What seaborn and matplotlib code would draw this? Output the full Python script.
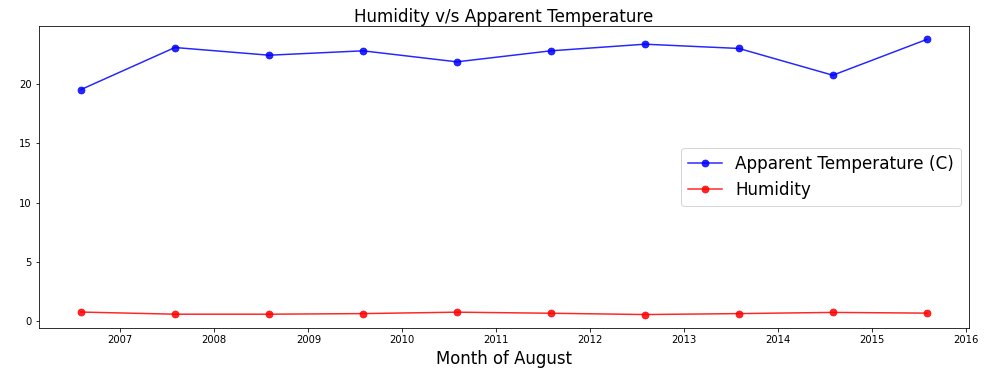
import matplotlib
matplotlib.use("Agg")
import matplotlib.pyplot as plt
import matplotlib.dates as mdates
import seaborn as sns
import pandas as pd

months = ["2006-08-01", "2007-08-01", "2008-08-01", "2009-08-01", "2010-08-01",
          "2011-08-01", "2012-08-01", "2013-08-01", "2014-08-01", "2015-08-01"]
apparent_temp = [19.55, 23.10, 22.45, 22.82, 21.89, 22.82, 23.38, 23.02, 20.76, 23.78]
humidity = [0.76, 0.58, 0.58, 0.63, 0.75, 0.66, 0.55, 0.63, 0.73, 0.67]

dates = pd.to_datetime(months)
df_t = pd.DataFrame({"date": dates, "value": apparent_temp})
df_h = pd.DataFrame({"date": dates, "value": humidity})

plt.rcParams['font.family'] = ['DejaVu Sans']
fig = plt.figure(figsize=(984/72, 376/72), dpi=72)
ax = fig.add_axes([38.7/984, 1-328.3/376, (969-38.7)/984, (328.3-25.7)/376])

sns.lineplot(data=df_t, x="date", y="value", ax=ax, color="blue", marker="o",
             markersize=7, markeredgecolor="blue", linewidth=1.5,
             label="Apparent Temperature (C)", alpha=0.85)
sns.lineplot(data=df_h, x="date", y="value", ax=ax, color="red", marker="o",
             markersize=7, markeredgecolor="red", linewidth=1.5,
             label="Humidity", alpha=0.85)

ax.xaxis.set_major_locator(mdates.YearLocator())
ax.xaxis.set_major_formatter(mdates.DateFormatter("%Y"))
ax.set_title("Humidity v/s Apparent Temperature", fontsize=16.8, pad=4)
ax.set_xlabel("Month of August", fontsize=16.5, labelpad=5)
ax.set_ylabel("")
ax.tick_params(labelsize=10)
ax.legend(loc="center right", fontsize=16.8)

fig.savefig("out.png", dpi=72)
